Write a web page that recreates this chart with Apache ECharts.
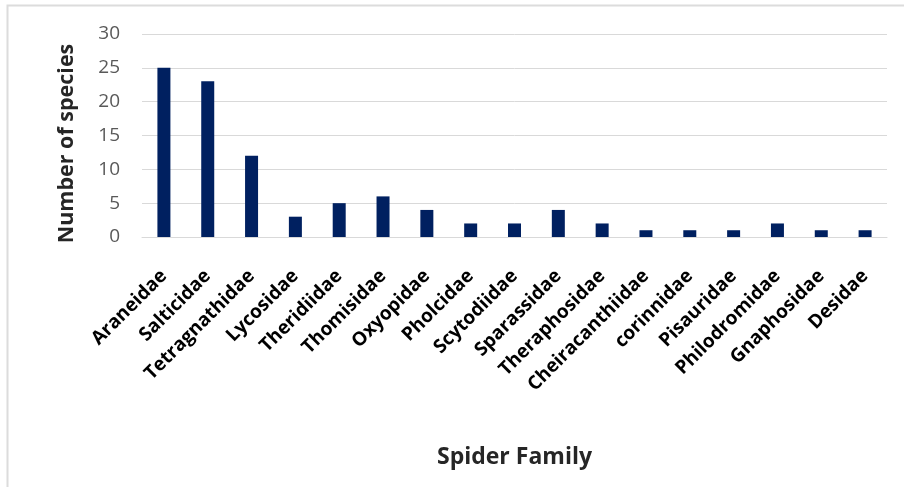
<!DOCTYPE html>
<html>
<head>
<meta charset="utf-8">
<script src="https://cdn.jsdelivr.net/npm/echarts@6/dist/echarts.min.js"></script>
<style>
html,body{margin:0;padding:0;background:#fff;}
#chart{width:904px;height:487px;}
</style>
</head>
<body>
<div id="chart"></div>
<script>
const families = ["Araneidae","Salticidae","Tetragnathidae","Lycosidae","Theridiidae","Thomisidae","Oxyopidae","Pholcidae","Scytodiidae","Sparassidae","Theraphosidae","Cheiracanthiidae","corinnidae","Pisauridae","Philodromidae","Gnaphosidae","Desidae"];
const speciesCounts = [25,23,12,3,5,6,4,2,2,4,2,1,1,1,2,1,1];
const yTicks = [0,5,10,15,20,25,30];

const chart = echarts.init(document.getElementById('chart'));
chart.setOption({
  animation: false,
  backgroundColor: '#fff',
  graphic: [{
    type: 'rect', silent: true,
    shape: {x: 7.5, y: 5.5, width: 1000, height: 1000},
    style: {fill: 'none', stroke: '#dcdcdc', lineWidth: 2}
  }],
  grid: {left: 142, right: 17, top: 34, bottom: 250, containLabel: false},
  xAxis: {
    type: 'category',
    data: families,
    name: 'Spider Family',
    nameLocation: 'middle',
    nameGap: 209,
    nameTextStyle: {fontFamily: 'Open Sans', fontWeight: 'bold', fontSize: 23, color: '#262626'},
    axisLine: {lineStyle: {color: '#d9d9d9', width: 1}},
    axisTick: {show: false},
    axisLabel: {
      interval: 0, rotate: 45, margin: 36,
      fontFamily: 'Open Sans', fontWeight: 'bold', fontSize: 19, color: '#000'
    }
  },
  yAxis: {
    type: 'value',
    min: yTicks[0], max: yTicks[yTicks.length-1], interval: 5,
    name: 'Number of species',
    nameLocation: 'middle',
    nameGap: 64,
    nameTextStyle: {fontFamily: 'Open Sans', fontWeight: 'bold', fontSize: 21.5, color: '#262626', padding: [0, 16, 0, 0]},
    axisLine: {show: false},
    axisTick: {show: false},
    splitLine: {lineStyle: {color: '#d9d9d9', width: 1}},
    axisLabel: {margin: 22, fontFamily: 'Open Sans', fontSize: 19, color: '#595959'}
  },
  series: [{
    type: 'bar',
    data: speciesCounts,
    barWidth: 13,
    itemStyle: {color: '#002060'}
  }]
});
</script>
</body>
</html>
